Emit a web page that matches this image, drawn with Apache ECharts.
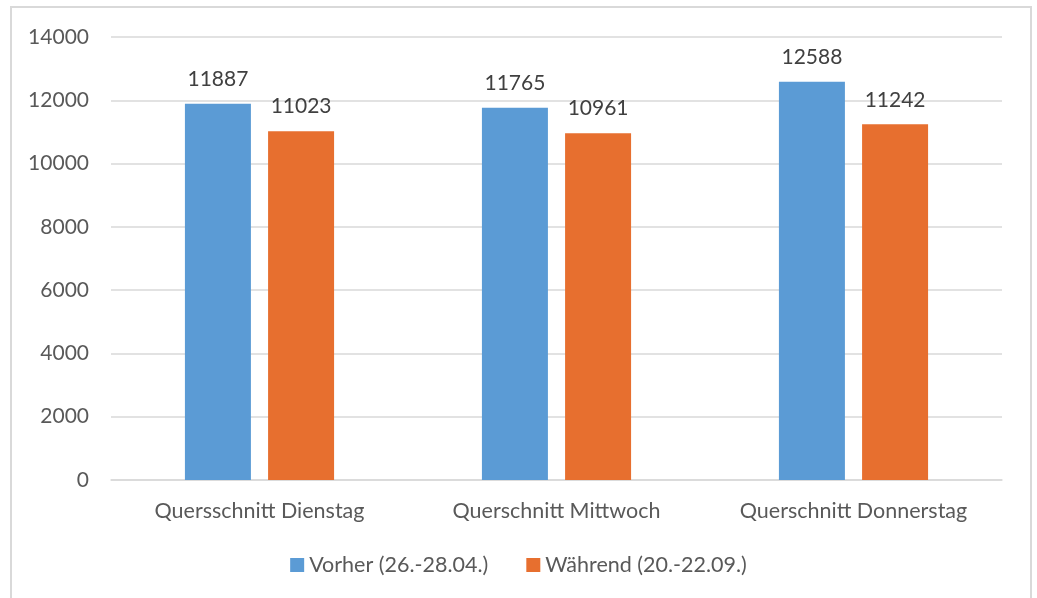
<!DOCTYPE html>
<html>
<head>
<meta charset="utf-8">
<script src="https://cdn.jsdelivr.net/npm/echarts@6/dist/echarts.min.js"></script>
<style>
  html, body { margin: 0; padding: 0; background: #fff; }
  #main { width: 1037px; height: 598px; }
</style>
</head>
<body>
<div id="main"></div>
<script>
const categories = ['Quersschnitt Dienstag', 'Querschnitt Mittwoch', 'Querschnitt Donnerstag'];
const vorher = [11887, 11765, 12588];
const waehrend = [11023, 10961, 11242];
const seriesNames = ['Vorher (26.-28.04.)', 'Während (20.-22.09.)'];

const chart = echarts.init(document.getElementById('main'));
const font = 'Lato, "Open Sans", sans-serif';

let option = {
  animation: false,
  textStyle: { fontFamily: font },
  graphic: [{
    type: 'rect',
    shape: { x: 11, y: 7, width: 1020, height: 620 },
    style: { fill: 'none', stroke: '#d9d9d9', lineWidth: 2 },
    silent: true
  }],
  grid: {
    left: 111,
    right: 35,
    top: 37,
    bottom: 118
  },
  legend: {
    bottom: 17,
    left: 'center',
    itemWidth: 14,
    itemHeight: 14,
    itemGap: 38,
    icon: 'rect',
    textStyle: { fontSize: 21.5, color: '#595959', fontFamily: font }
  },
  xAxis: {
    type: 'category',
    data: categories,
    axisTick: { show: false },
    axisLine: { lineStyle: { color: '#d9d9d9', width: 1.5 } },
    axisLabel: { fontSize: 21.5, color: '#595959', margin: 20 }
  },
  yAxis: {
    type: 'value',
    min: 0,
    max: 14000,
    interval: 2000,
    axisLabel: { fontSize: 21, color: '#595959', margin: 22, formatter: v => String(v) },
    splitLine: { lineStyle: { color: '#d9d9d9', width: 1.5 } }
  },
  series: [{
    name: seriesNames[0],
    type: 'bar',
    data: vorher,
    barWidth: 66,
    barGap: '26%',
    itemStyle: { color: '#5b9bd5' },
    label: { show: true, position: 'top', distance: 14, fontSize: 21, color: '#404040' }
  }, {
    name: seriesNames[1],
    type: 'bar',
    data: waehrend,
    barWidth: 66,
    itemStyle: { color: '#e76f2f' },
    label: { show: true, position: 'top', distance: 14, fontSize: 21, color: '#404040' }
  }]
};
chart.setOption(option);
</script>
</body>
</html>
